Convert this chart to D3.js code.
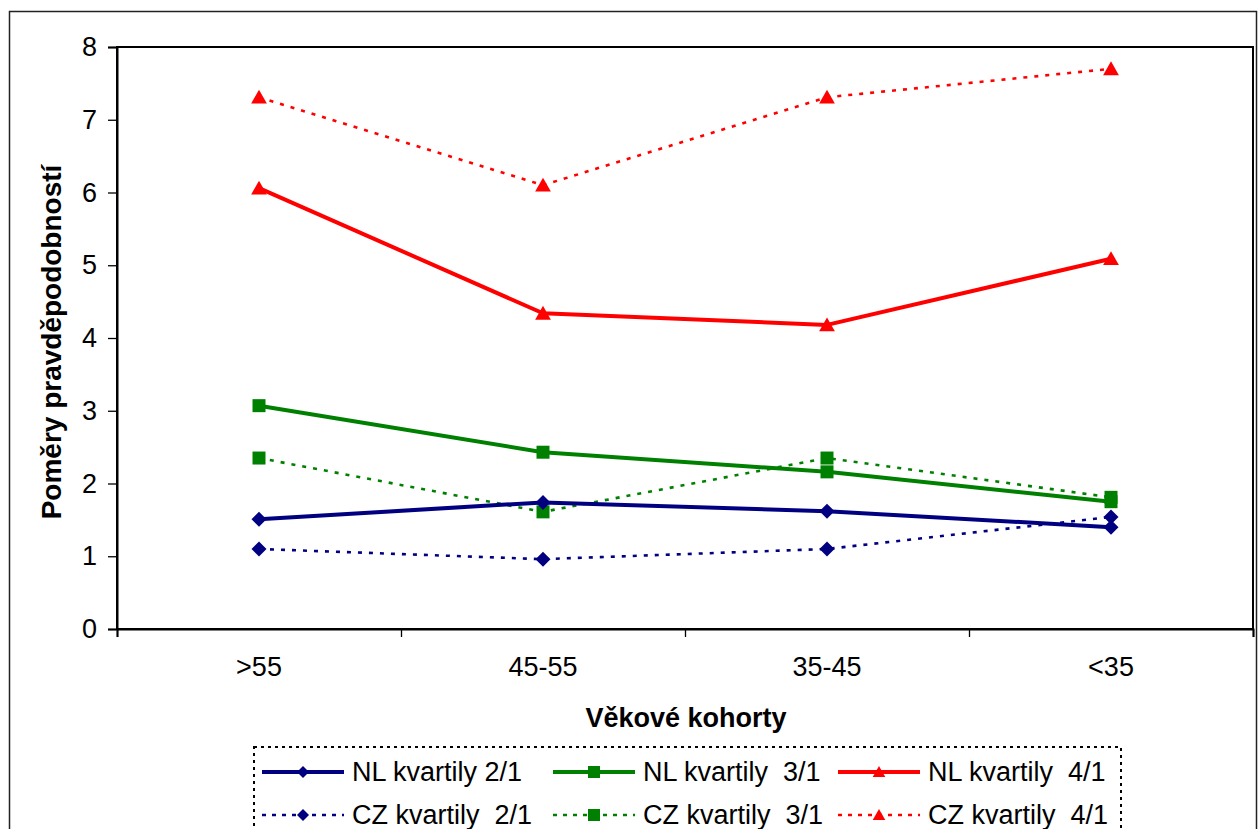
<!DOCTYPE html>
<html>
<head>
<meta charset="utf-8">
<script src="https://cdn.jsdelivr.net/npm/d3@7"></script>
<style>
  html, body { margin: 0; padding: 0; background: #fff; }
  svg { display: block; font-family: Arial, "Liberation Sans", sans-serif; }
  text { white-space: pre; }
</style>
</head>
<body>
<svg id="chart" width="1260" height="829"></svg>
<script>
// ---- data ----
const categories = [">55", "45-55", "35-45", "<35"];
const nl21 = [1.51, 1.74, 1.62, 1.40];
const nl31 = [3.07, 2.43, 2.16, 1.75];
const nl41 = [6.06, 4.34, 4.18, 5.09];
const cz21 = [1.10, 0.96, 1.10, 1.54];
const cz31 = [2.35, 1.61, 2.35, 1.81];
const cz41 = [7.31, 6.10, 7.31, 7.70];
const seriesNames = ["NL kvartily 2/1", "NL kvartily  3/1", "NL kvartily  4/1",
                     "CZ kvartily  2/1", "CZ kvartily  3/1", "CZ kvartily  4/1"];
const yTicks = [0, 1, 2, 3, 4, 5, 6, 7, 8];
const yTitle = "Poměry pravděpodobností";
const xTitle = "Věkové kohorty";

// ---- styles ----
const colors = ["#000080", "#008000", "#FF0000"];
const markers = ["diamond", "square", "triangle"];
const series = [
  { name: seriesNames[0], values: nl21, color: colors[0], marker: markers[0], dashed: false },
  { name: seriesNames[1], values: nl31, color: colors[1], marker: markers[1], dashed: false },
  { name: seriesNames[2], values: nl41, color: colors[2], marker: markers[2], dashed: false },
  { name: seriesNames[3], values: cz21, color: colors[0], marker: markers[0], dashed: true },
  { name: seriesNames[4], values: cz31, color: colors[1], marker: markers[1], dashed: true },
  { name: seriesNames[5], values: cz41, color: colors[2], marker: markers[2], dashed: true }
];

const svg = d3.select("#chart");
const plot = { left: 117, top: 47, right: 1253, bottom: 629 };

// outer border
svg.append("rect").attr("x", 9.5).attr("y", 11.5).attr("width", 1247).attr("height", 840)
  .attr("fill", "none").attr("stroke", "#222").attr("stroke-width", 1.5);

const x = d3.scaleBand().domain(categories).range([plot.left, plot.right]).padding(0);
const xEdges = d3.scaleLinear().domain([0, categories.length]).range([plot.left, plot.right]);
const y = d3.scaleLinear().domain([0, 8]).range([plot.bottom, plot.top]);

// plot box
svg.append("rect").attr("x", plot.left).attr("y", plot.top)
  .attr("width", plot.right - plot.left).attr("height", plot.bottom - plot.top)
  .attr("fill", "none").attr("stroke", "#000").attr("stroke-width", 2);

// y axis
const yAxis = svg.append("g").attr("transform", `translate(${plot.left},0)`)
  .call(d3.axisLeft(y).tickValues(yTicks).tickSize(9).tickPadding(11).tickFormat(d3.format("d")));
yAxis.select(".domain").attr("stroke-width", 2);
yAxis.selectAll(".tick line").attr("stroke-width", 1.3);
yAxis.selectAll("text").attr("font-size", 27).attr("fill", "#000")
  .attr("font-family", "Arial, 'Liberation Sans', sans-serif");

// x axis: boundary ticks
const xTickAxis = svg.append("g").attr("transform", `translate(0,${plot.bottom})`)
  .call(d3.axisBottom(xEdges).tickValues(d3.range(categories.length + 1)).tickSize(8).tickFormat(""));
xTickAxis.select(".domain").attr("stroke-width", 2);
xTickAxis.selectAll(".tick line").attr("stroke-width", 1.3);

// x axis: labels
const xLab = svg.append("g").attr("transform", `translate(0,${plot.bottom})`)
  .call(d3.axisBottom(x).tickSize(0).tickPadding(28));
xLab.select(".domain").remove();
xLab.selectAll("text").attr("font-size", 27).attr("fill", "#000")
  .attr("font-family", "Arial, 'Liberation Sans', sans-serif");

// axis titles
svg.append("text").attr("transform", "translate(61,342) rotate(-90)")
  .attr("text-anchor", "middle").attr("font-size", 28).attr("font-weight", "bold").text(yTitle);
svg.append("text").attr("x", 686).attr("y", 727)
  .attr("text-anchor", "middle").attr("font-size", 27).attr("font-weight", "bold").text(xTitle);

// markers
function markerPath(type, s) {
  const h = s / 2;
  if (type === "diamond") return `M0,${-h}L${h},0L0,${h}L${-h},0Z`;
  if (type === "square") return `M${-h},${-h}H${h}V${h}H${-h}Z`;
  return `M0,${-h}L${h * 1.05},${h * 0.85}H${-h * 1.05}Z`;
}
const markerSize = { diamond: 15, square: 13, triangle: 15 };

const line = d3.line().x((d, i) => x(categories[i]) + x.bandwidth() / 2).y(d => y(d));

// draw dashed series first then solid
const order = [3, 4, 5, 0, 1, 2];
order.forEach(k => {
  const s = series[k];
  svg.append("path").datum(s.values).attr("d", line)
    .attr("fill", "none").attr("stroke", s.color)
    .attr("stroke-width", s.dashed ? 2.6 : 4)
    .attr("stroke-dasharray", s.dashed ? "4,7" : null)
    .attr("stroke-linejoin", "round");
});
order.forEach(k => {
  const s = series[k];
  svg.append("g").selectAll("path").data(s.values).join("path")
    .attr("transform", (d, i) => `translate(${x(categories[i]) + x.bandwidth() / 2},${y(d)})`)
    .attr("d", markerPath(s.marker, markerSize[s.marker]))
    .attr("fill", s.color);
});

// legend
const legend = svg.append("g");
legend.append("rect").attr("x", 254).attr("y", 747).attr("width", 867).attr("height", 100)
  .attr("fill", "#fff").attr("stroke", "#000").attr("stroke-width", 2).attr("stroke-dasharray", "3,4");
const colX = [262, 553, 838];
const rowY = [772, 815];
series.forEach((s, k) => {
  const col = k % 3, row = Math.floor(k / 3);
  const lx = colX[col], ly = rowY[row];
  const g = legend.append("g").attr("transform", `translate(${lx},${ly})`);
  g.append("line").attr("x1", 0).attr("x2", 82).attr("y1", 0).attr("y2", 0)
    .attr("stroke", s.color).attr("stroke-width", s.dashed ? 2.6 : 4)
    .attr("stroke-dasharray", s.dashed ? "4,6" : null);
  g.append("path").attr("transform", "translate(41,0)")
    .attr("d", markerPath(s.marker, 12)).attr("fill", s.color);
  g.append("text").attr("x", 90).attr("y", 0).attr("dy", "0.35em")
    .attr("font-size", 27).attr("fill", "#000").text(s.name);
});
</script>
</body>
</html>
